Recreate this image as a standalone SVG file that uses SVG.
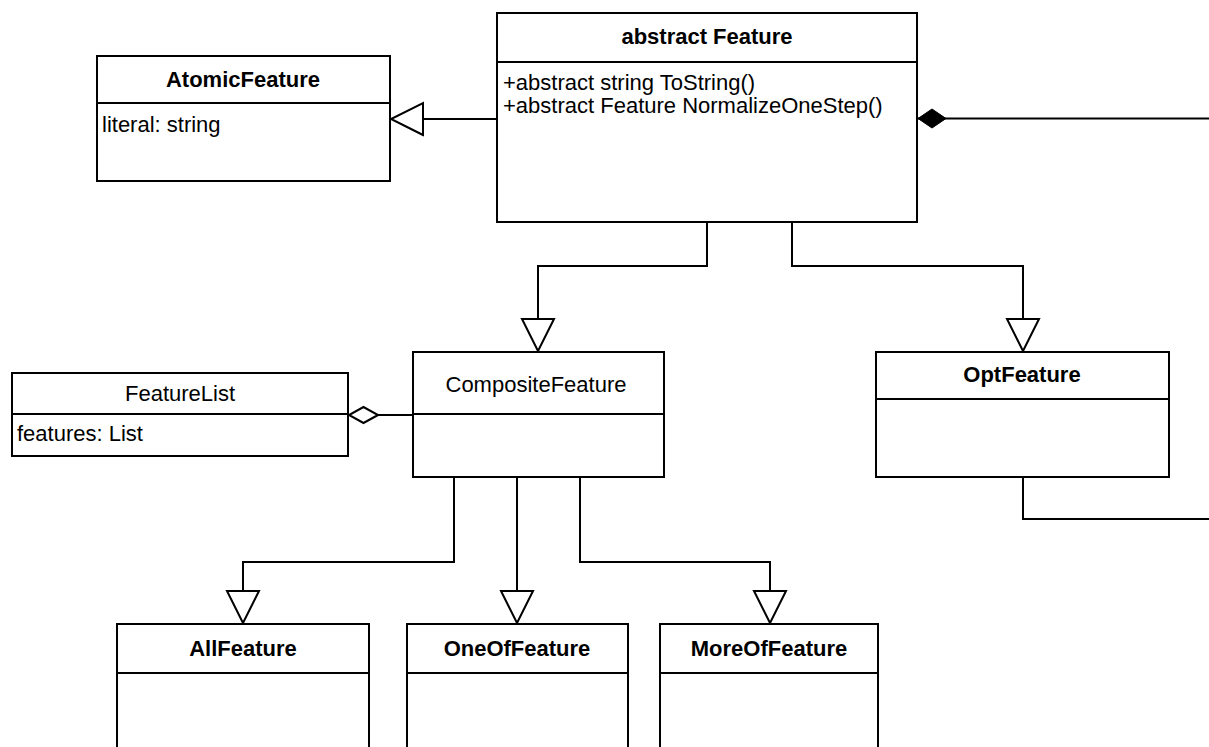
<svg xmlns="http://www.w3.org/2000/svg" width="1209" height="747" viewBox="0 0 1209 747">
<style>
.box{fill:#fff;stroke:#000;stroke-width:2}
.sep{stroke:#000;stroke-width:2}
.con{fill:none;stroke:#000;stroke-width:2}
.b{font-family:"Liberation Sans",Arial,sans-serif;font-size:22px;font-weight:bold;fill:#000;text-anchor:middle}
.r{font-family:"Liberation Sans",Arial,sans-serif;font-size:22px;fill:#000}
.rc{font-family:"Liberation Sans",Arial,sans-serif;font-size:22px;fill:#000;text-anchor:middle}
</style>
<defs>
<marker id="gen" markerUnits="userSpaceOnUse" markerWidth="40" markerHeight="40" refX="32" refY="16" orient="auto" overflow="visible">
<path d="M0,0 L32,16 L0,32 Z" fill="#fff" stroke="#000" stroke-width="2"/>
</marker>
<marker id="agg" markerUnits="userSpaceOnUse" markerWidth="40" markerHeight="40" refX="29" refY="8" orient="auto" overflow="visible">
<path d="M0,8 L14.5,0 L29,8 L14.5,16 Z" fill="#fff" stroke="#000" stroke-width="2"/>
</marker>
<marker id="comp" markerUnits="userSpaceOnUse" markerWidth="40" markerHeight="40" refX="28" refY="9.5" orient="auto" overflow="visible">
<path d="M0,9.5 L14,0 L28,9.5 L14,19 Z" fill="#000" stroke="#000" stroke-width="1"/>
</marker>
</defs>
<rect width="1209" height="747" fill="#fff"/>
<g id="connectors">
<path class="con" d="M497,119 H391" marker-end="url(#gen)"/>
<path class="con" d="M1209,118.5 H918" marker-end="url(#comp)"/>
<path class="con" d="M707,223 V266 H538 V351" marker-end="url(#gen)"/>
<path class="con" d="M792,223 V266 H1023 V351" marker-end="url(#gen)"/>
<path class="con" d="M413,415 H349" marker-end="url(#agg)"/>
<path class="con" d="M454,477 V562 H243 V623" marker-end="url(#gen)"/>
<path class="con" d="M517,477 V623" marker-end="url(#gen)"/>
<path class="con" d="M580,477 V562 H770 V623" marker-end="url(#gen)"/>
<path class="con" d="M1023,477 V519 H1209"/>
</g>
<g id="Feature">
<rect class="box" x="497" y="13" width="420" height="209"/>
<line class="sep" x1="497" y1="62" x2="917" y2="62"/>
<text class="b" x="707" y="44">abstract Feature</text>
<text class="r" x="503" y="90">+abstract string ToString()</text>
<text class="r" x="503" y="113">+abstract Feature NormalizeOneStep()</text>
</g>
<g id="AtomicFeature">
<rect class="box" x="97" y="56" width="293" height="125"/>
<line class="sep" x1="97" y1="103" x2="390" y2="103"/>
<text class="b" x="243" y="87">AtomicFeature</text>
<text class="r" x="102" y="132">literal: string</text>
</g>
<g id="FeatureList">
<rect class="box" x="12" y="373" width="336" height="83"/>
<line class="sep" x1="12" y1="414" x2="348" y2="414"/>
<text class="rc" x="180" y="401">FeatureList</text>
<text class="r" x="17" y="441">features: List</text>
</g>
<g id="CompositeFeature">
<rect class="box" x="413" y="352" width="251" height="125"/>
<line class="sep" x1="413" y1="414" x2="664" y2="414"/>
<text class="rc" x="536" y="392">CompositeFeature</text>
</g>
<g id="OptFeature">
<rect class="box" x="876" y="352" width="293" height="125"/>
<line class="sep" x1="876" y1="399" x2="1169" y2="399"/>
<text class="b" x="1022" y="382">OptFeature</text>
</g>
<g id="AllFeature">
<rect class="box" x="117" y="624" width="252" height="140"/>
<line class="sep" x1="117" y1="673" x2="369" y2="673"/>
<text class="b" x="243" y="656">AllFeature</text>
</g>
<g id="OneOfFeature">
<rect class="box" x="407" y="624" width="221" height="140"/>
<line class="sep" x1="407" y1="673" x2="628" y2="673"/>
<text class="b" x="517" y="656">OneOfFeature</text>
</g>
<g id="MoreOfFeature">
<rect class="box" x="660" y="624" width="218" height="140"/>
<line class="sep" x1="660" y1="673" x2="878" y2="673"/>
<text class="b" x="769" y="656">MoreOfFeature</text>
</g>
</svg>
